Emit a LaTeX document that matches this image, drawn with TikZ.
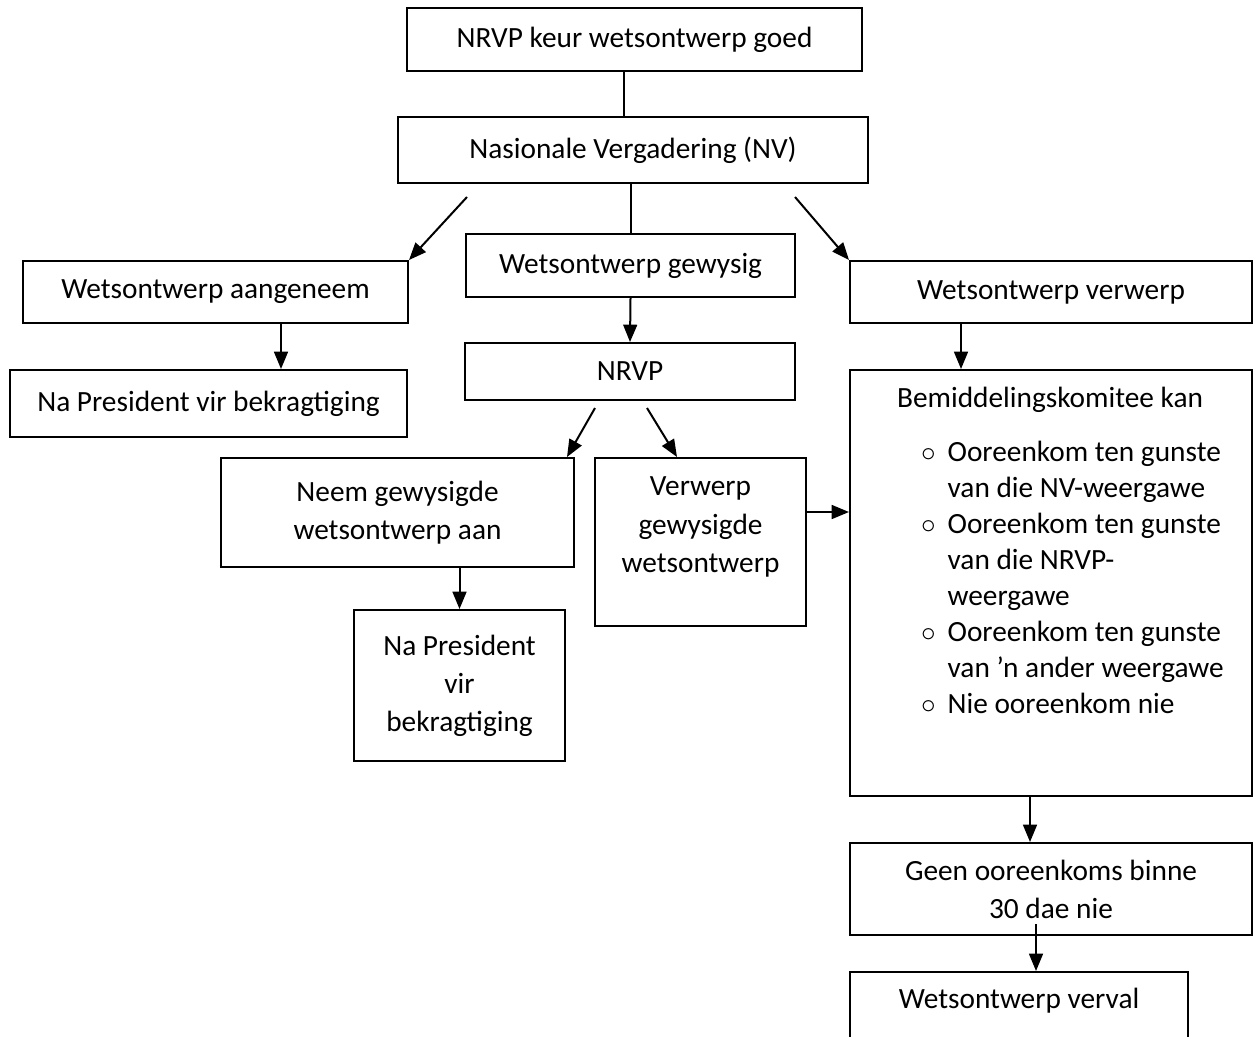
\documentclass[tikz,border=0pt]{standalone}
\usepackage{fontspec}
\setmainfont{Carlito}
\usetikzlibrary{arrows.meta,positioning}

\begin{document}
\begin{tikzpicture}[x=0.375pt, y=-0.375pt, font=\fontsize{11}{14.3}\selectfont, line width=0.75pt,
  box/.style={draw, align=center, inner sep=0pt},
  sz/.style 2 args={minimum width=#1*0.375pt, minimum height=#2*0.375pt},
  arr/.style={-{Triangle[length=6.5pt,width=5.2pt]}}]
  \useasboundingbox (0,0) rectangle (1254,1036);
  % ---- top of the flow ----
  \node[box, sz={455}{63}] (goed) at (634.5,39.5) {NRVP keur wetsontwerp goed};
  \node[box, sz={470}{66}] (nv) at (633,150) {Nasionale Vergadering (NV)};
  % ---- three outcomes ----
  \node[box, sz={385}{62}] (aan) at (215.5,292) {Wetsontwerp aangeneem};
  \node[box, sz={329}{63}] (gew) at (630.5,265.5) {Wetsontwerp gewysig};
  \node[box, sz={402}{62}] (verw) at (1051,292) {Wetsontwerp verwerp};
  \node[box, sz={397}{67}] (pres1) at (208.5,403.5) {Na President vir bekragtiging};
  \node[box, sz={330}{57}] (nrvp) at (630,371.5) {NRVP};
  \node[box, sz={353}{109}] (neem) at (397.5,512.5) {Neem gewysigde\\wetsontwerp aan};
  \node[box, sz={211}{168}] (vgw) at (700.5,542) {};
  \node (vgwt) at (700.5,527) [align=center] {Verwerp\\gewysigde\\wetsontwerp};
  \node[box, sz={211}{151}] (pres2) at (459.5,685.5) {Na President\\vir\\bekragtiging};
  % ---- mediation committee ----
  \node[box, sz={402}{426}] (bem) at (1051,583) {};
  \node (bemt) at (1050,400) {Bemiddelingskomitee kan};
  \node[anchor=west, inner sep=0pt, font=\fontsize{11}{13.5}\selectfont] (opsies) at (920,580.5) {%
    \begin{tabular}{@{}c@{\hspace{4.5pt}}l@{}}
      $\circ$ & Ooreenkom ten gunste\\
              & van die NV-weergawe\\
      $\circ$ & Ooreenkom ten gunste\\
              & van die NRVP-\\
              & weergawe\\
      $\circ$ & Ooreenkom ten gunste\\
              & van ’n ander weergawe\\
      $\circ$ & Nie ooreenkom nie
    \end{tabular}};
  \node[box, sz={402}{92}] (geen) at (1051,889) {Geen ooreenkoms binne\\30 dae nie};
  \node[box, sz={338}{68}] (verval) at (1019,1006) {};
  \node (vervalt) at (1019,1001) {Wetsontwerp verval};
  % ---- free ends of the connectors ----
  \coordinate (k1) at (624,71);
  \coordinate (kl) at (467,197);
  \coordinate (kr) at (795,197);
  \coordinate (ka) at (281,0);
  \coordinate (kv) at (961,0);
  \coordinate (kn1) at (595,408);
  \coordinate (kn2) at (567,0);
  \coordinate (kn3) at (647,408);
  \coordinate (kn4) at (677,0);
  \coordinate (kb) at (0,512);
  \coordinate (kg) at (1030,0);
  \coordinate (kz) at (1036,924);
  % ---- connectors ----
  \draw (k1) -- (k1 |- nv.north);
  \draw (gew.north |- nv.south) -- (gew.north);
  \draw[arr] (kl) -- (aan.north east);
  \draw[arr] (kr) -- (verw.north west);
  \draw[arr] (gew.south) -- (nrvp.north);
  \draw[arr] (ka |- aan.south) -- (ka |- pres1.north);
  \draw[arr] (kv |- verw.south) -- (kv |- bem.north);
  \draw[arr] (kn1) -- (kn2 |- neem.north);
  \draw[arr] (kn3) -- (kn4 |- vgw.north);
  \draw[arr] (kb -| vgw.east) -- (kb -| bem.west);
  \draw[arr] (neem.south -| pres2.north) -- (pres2.north);
  \draw[arr] (kg |- bem.south) -- (kg |- geen.north);
  \draw[arr] (kz) -- (kz |- verval.north);
\end{tikzpicture}
\end{document}
